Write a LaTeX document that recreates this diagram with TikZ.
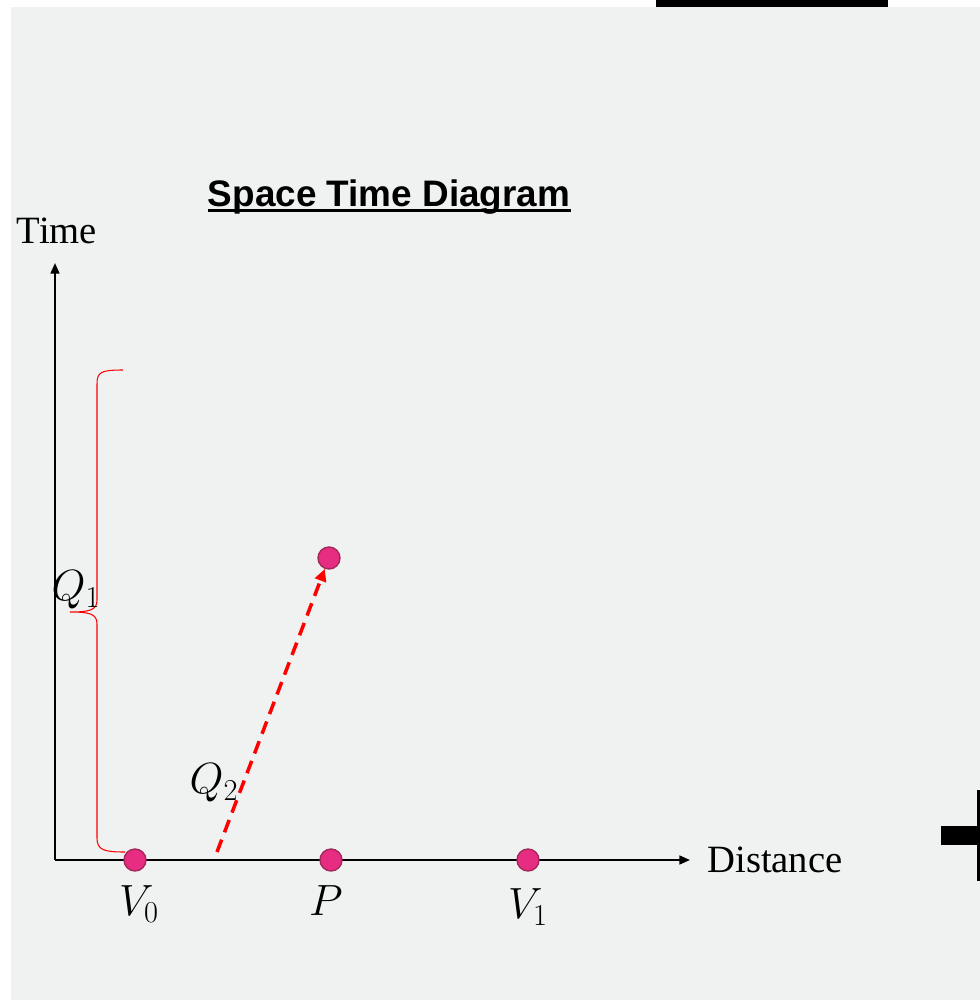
\documentclass[tikz,border=0pt]{standalone}
\usepackage{fontspec}
\setmainfont{Liberation Serif}
\newfontfamily\titlefont{Liberation Sans}
\usepackage{tikz}
\usetikzlibrary{arrows.meta,positioning}

\definecolor{slidebg}{RGB}{239,242,241}
\definecolor{dotfill}{RGB}{230,45,130}
\definecolor{dotline}{RGB}{165,40,90}

\begin{document}
\begin{tikzpicture}[x=0.02cm, y=-0.02cm,
  pt/.style={circle, draw=dotline, line width=0.8pt, fill=dotfill, minimum size=0.44cm, inner sep=0pt},
  axis/.style={line width=1.1pt, -{Triangle[length=6pt,width=5pt]}},
  flow/.style={red, line width=2pt, dash pattern=on 7.5pt off 4.5pt, -{Triangle[length=7pt,width=6.5pt]}},
  lbl/.style={inner sep=0pt, font=\fontsize{22}{26}\selectfont},
  mlbl/.style={inner sep=0pt, font=\fontsize{25}{30}\selectfont}]
  % page and slide edges
  \useasboundingbox (0,0) rectangle (980,1001);
  \fill[white] (0,0) rectangle (980,1001);
  \fill[slidebg] (11,7) rectangle (980,1000);
  \fill[black] (656,0) rectangle (888,7);
  \fill[black] (941,826) rectangle (980,845);
  \fill[black] (977,790) rectangle (980,881);
  % title
  \node[inner sep=0pt, anchor=base] (title) at (389,206) {\titlefont\bfseries\fontsize{21}{25}\selectfont Space Time Diagram};
  \draw[line width=1.6pt] ([yshift=-0.09cm]title.base west) -- ([yshift=-0.09cm]title.base east);
  % axes
  \coordinate (o) at (55,860);
  \coordinate (tend) at (55,263);
  \coordinate (dend) at (690,860);
  \draw[axis] (o) -- (tend);
  \draw[axis] (o) -- (dend);
  \node[lbl] (time) at (57,231) {Time};
  \node[lbl, anchor=west] (dist) at (707,860) {Distance};
  % brace for Q1
  \draw[red, line width=0.6pt] (123,370) .. controls (101,370) and (97,372) .. (97,384)
    -- (97,600) .. controls (97,610) and (90,612) .. (70,612)
    .. controls (90,612) and (97,614) .. (97,624)
    -- (97,838) .. controls (97,850) and (104,852) .. (125,852);
  \node[mlbl] (q1) at (76,590) {$Q_1$};
  % events
  \node[pt] (v0) at (135,860) {};
  \node[pt] (p) at (331,860) {};
  \node[pt] (v1) at (528,860) {};
  \node[pt] (e) at (329,558) {};
  \node[mlbl] (v0l) at (139,904) {$V_0$};
  \node[mlbl] (pl) at (326,901) {$P$};
  \node[mlbl] (v1l) at (528,907) {$V_1$};
  % signal
  \coordinate (q2s) at (217,852);
  \draw[flow] (q2s) -- (e);
  \node[mlbl] (q2) at (214,783) {$Q_2$};
\end{tikzpicture}
\end{document}
